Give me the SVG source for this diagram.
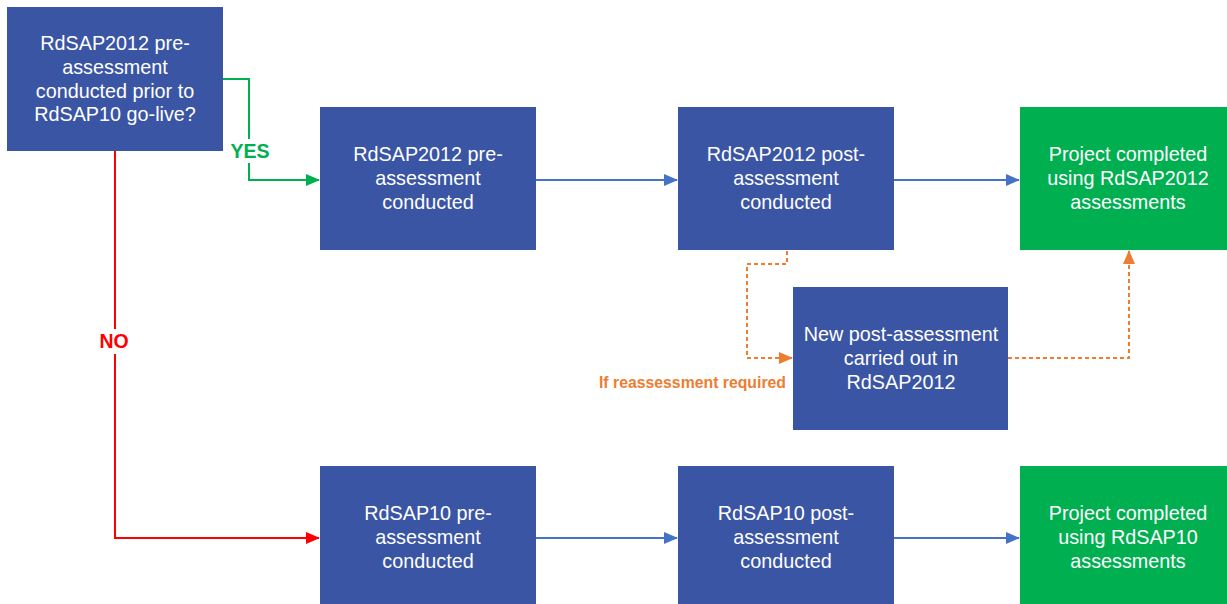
<svg xmlns="http://www.w3.org/2000/svg" width="1227" height="604" viewBox="0 0 1227 604">
<style>
.b{fill:#3A55A4}
.g{fill:#00B050}
.t{font-family:"Liberation Sans",Arial,sans-serif;font-size:19.8px;fill:#fff;text-anchor:middle}
.c{fill:none;stroke-width:2}
.blue{stroke:#4472C4}
.grn{stroke:#00B050}
.red{stroke:#FF0000}
.org{stroke:#ED7D31;stroke-dasharray:4 3}
.lbl{font-family:"Liberation Sans",Arial,sans-serif;font-weight:bold}
</style>
<defs>
<marker id="ab" markerWidth="14" markerHeight="12" refX="13" refY="6" orient="auto" markerUnits="userSpaceOnUse"><path d="M0,0 L14,6 L0,12z" fill="#4472C4"/></marker>
<marker id="ag" markerWidth="14" markerHeight="12" refX="13" refY="6" orient="auto" markerUnits="userSpaceOnUse"><path d="M0,0 L14,6 L0,12z" fill="#00B050"/></marker>
<marker id="ar" markerWidth="14" markerHeight="12" refX="13" refY="6" orient="auto" markerUnits="userSpaceOnUse"><path d="M0,0 L14,6 L0,12z" fill="#FF0000"/></marker>
<marker id="ao" markerWidth="14" markerHeight="12" refX="13" refY="6" orient="auto" markerUnits="userSpaceOnUse"><path d="M0,0 L14,6 L0,12z" fill="#ED7D31"/></marker>
</defs>
<rect width="1227" height="604" fill="#fff"/>
<g id="connectors">
<polyline class="c grn" points="223,79 249,79 249,139"/>
<polyline class="c grn" points="249,163 249,180 319,180" marker-end="url(#ag)"/>
<polyline class="c red" points="115,151 115,329"/>
<polyline class="c red" points="115,354 115,538 319,538" marker-end="url(#ar)"/>
<line class="c blue" x1="536" y1="180" x2="677" y2="180" marker-end="url(#ab)"/>
<line class="c blue" x1="894" y1="180" x2="1019" y2="180" marker-end="url(#ab)"/>
<line class="c blue" x1="536" y1="538" x2="677" y2="538" marker-end="url(#ab)"/>
<line class="c blue" x1="894" y1="538" x2="1019" y2="538" marker-end="url(#ab)"/>
<polyline class="c org" points="787,251 787,264 747,264 747,358 792,358" marker-end="url(#ao)"/>
<polyline class="c org" points="1008,358 1129,358 1129,251" marker-end="url(#ao)"/>
<text class="lbl" x="250" y="158" font-size="19.5" fill="#00B050" text-anchor="middle">YES</text>
<text class="lbl" x="114" y="348" font-size="19.5" fill="#FF0000" text-anchor="middle">NO</text>
<text class="lbl" x="786" y="388" font-size="15.8" fill="#ED7D31" text-anchor="end">If reassessment required</text>
</g>
<g id="decision">
<rect class="b" x="7" y="7" width="216" height="144"/>
<text class="t"><tspan x="115" y="50">RdSAP2012 pre-</tspan><tspan x="115" y="74">assessment</tspan><tspan x="115" y="98">conducted prior to</tspan><tspan x="115" y="121">RdSAP10 go-live?</tspan></text>
</g>
<g id="pre2012">
<rect class="b" x="320" y="107" width="216" height="143"/>
<text class="t"><tspan x="428" y="161">RdSAP2012 pre-</tspan><tspan x="428" y="185">assessment</tspan><tspan x="428" y="209">conducted</tspan></text>
</g>
<g id="post2012">
<rect class="b" x="678" y="107" width="216" height="143"/>
<text class="t"><tspan x="786" y="161">RdSAP2012 post-</tspan><tspan x="786" y="185">assessment</tspan><tspan x="786" y="209">conducted</tspan></text>
</g>
<g id="done2012">
<rect class="g" x="1020" y="107" width="207" height="143"/>
<text class="t"><tspan x="1128" y="161">Project completed</tspan><tspan x="1128" y="185">using RdSAP2012</tspan><tspan x="1128" y="209">assessments</tspan></text>
</g>
<g id="newpost">
<rect class="b" x="793" y="287" width="215" height="143"/>
<text class="t"><tspan x="901" y="341">New post-assessment</tspan><tspan x="901" y="365">carried out in</tspan><tspan x="901" y="389">RdSAP2012</tspan></text>
</g>
<g id="pre10">
<rect class="b" x="320" y="466" width="216" height="138"/>
<text class="t"><tspan x="428" y="520">RdSAP10 pre-</tspan><tspan x="428" y="544">assessment</tspan><tspan x="428" y="568">conducted</tspan></text>
</g>
<g id="post10">
<rect class="b" x="678" y="466" width="216" height="138"/>
<text class="t"><tspan x="786" y="520">RdSAP10 post-</tspan><tspan x="786" y="544">assessment</tspan><tspan x="786" y="568">conducted</tspan></text>
</g>
<g id="done10">
<rect class="g" x="1020" y="466" width="207" height="138"/>
<text class="t"><tspan x="1128" y="520">Project completed</tspan><tspan x="1128" y="544">using RdSAP10</tspan><tspan x="1128" y="568">assessments</tspan></text>
</g>
</svg>
